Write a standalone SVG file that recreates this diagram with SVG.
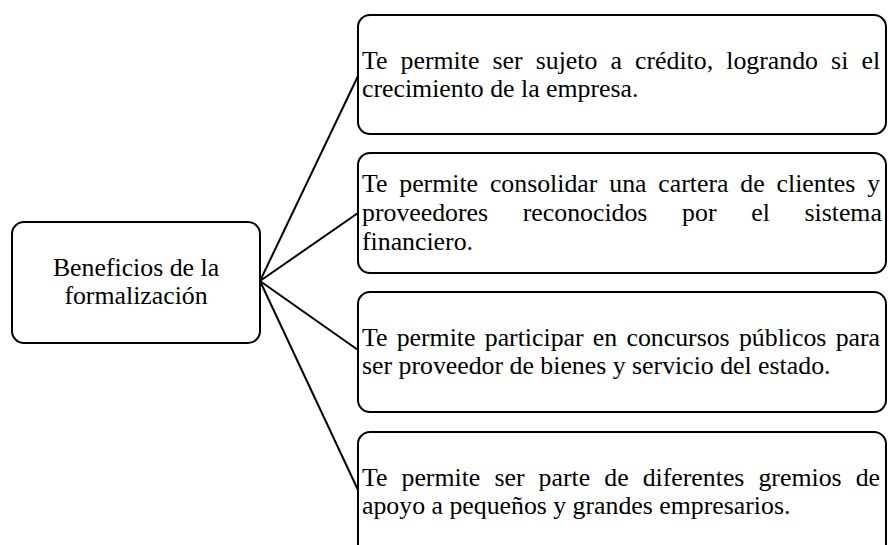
<svg xmlns="http://www.w3.org/2000/svg" width="889" height="545" viewBox="0 0 889 545">
<style>
.box{fill:#fff;stroke:#000;stroke-width:2}
.t{font-family:"Liberation Serif","Times New Roman",serif;font-size:25.8px;fill:#000}
.c{font-family:"Liberation Serif","Times New Roman",serif;font-size:25.8px;fill:#000;text-anchor:middle}
.ln{stroke:#000;stroke-width:2;fill:none}
</style>
<rect width="889" height="545" fill="#fff"/>
<g id="connectors">
<line class="ln" x1="260" y1="281" x2="358" y2="76"/>
<line class="ln" x1="260" y1="281" x2="358" y2="213"/>
<line class="ln" x1="260" y1="281" x2="358" y2="350"/>
<line class="ln" x1="260" y1="281" x2="358" y2="490"/>
</g>
<g id="root">
<rect class="box" x="12" y="222" width="248" height="121" rx="12"/>
<text class="c" x="136" y="275.7">Beneficios de la<tspan x="136" dy="28.6">formalización</tspan></text>
</g>
<g id="b1">
<rect class="box" x="358" y="15" width="528" height="119" rx="12"/>
<text class="t" x="362" y="68.7"><tspan word-spacing="6.69">Te permite ser sujeto a crédito, logrando si el</tspan><tspan x="362" dy="28.6" word-spacing="0">crecimiento de la empresa.</tspan></text>
</g>
<g id="b2">
<rect class="box" x="358" y="153" width="528" height="120" rx="12"/>
<text class="t" x="362" y="192.4"><tspan word-spacing="5.41">Te permite consolidar una cartera de clientes y</tspan><tspan x="362" dy="28.6" word-spacing="28.25">proveedores reconocidos por el sistema</tspan><tspan x="362" dy="28.6" word-spacing="0">financiero.</tspan></text>
</g>
<g id="b3">
<rect class="box" x="358" y="292" width="528" height="120" rx="12"/>
<text class="t" x="362" y="345.7"><tspan word-spacing="2.83">Te permite participar en concursos públicos para</tspan><tspan x="362" dy="28.6" word-spacing="0">ser proveedor de bienes y servicio del estado.</tspan></text>
</g>
<g id="b4">
<rect class="box" x="358" y="432" width="528" height="140" rx="12"/>
<text class="t" x="362" y="485.7"><tspan word-spacing="7.65">Te permite ser parte de diferentes gremios de</tspan><tspan x="362" dy="28.6" word-spacing="0">apoyo a pequeños y grandes empresarios.</tspan></text>
</g>
</svg>
